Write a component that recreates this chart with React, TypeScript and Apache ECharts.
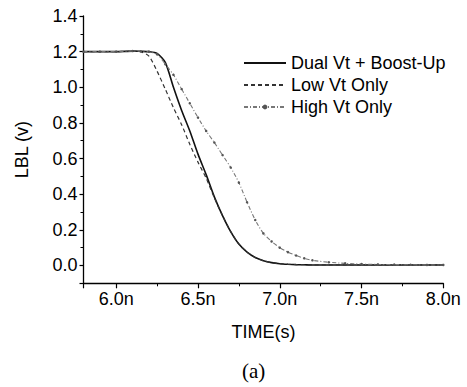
import React, { useEffect, useRef } from "react";
import * as echarts from "echarts";

const timeNs = [5.8, 5.9, 6.0, 6.1, 6.15, 6.2, 6.25, 6.3, 6.35, 6.4, 6.45, 6.5, 6.55, 6.6, 6.65, 6.7, 6.75, 6.8, 6.85, 6.9, 6.95, 7.0, 7.05, 7.1, 7.15, 7.2, 7.3, 7.4, 7.5, 7.6, 7.7, 7.8, 7.9, 8.0];
const dualVt = [1.2, 1.2, 1.2, 1.203, 1.202, 1.2, 1.19, 1.14, 1.0, 0.87, 0.755, 0.625, 0.51, 0.385, 0.28, 0.19, 0.12, 0.075, 0.045, 0.027, 0.016, 0.01, 0.007, 0.005, 0.004, 0.003, 0.003, 0.003, 0.003, 0.003, 0.003, 0.003, 0.003, 0.003];
const lowVt = [1.2, 1.2, 1.2, 1.203, 1.199, 1.175, 1.09, 0.99, 0.885, 0.79, 0.68, 0.58, 0.49, 0.38, 0.28, 0.19, 0.12, 0.075, 0.045, 0.027, 0.016, 0.01, 0.007, 0.005, 0.004, 0.003, 0.003, 0.003, 0.003, 0.003, 0.003, 0.003, 0.003, 0.003];
const highVt = [1.2, 1.2, 1.2, 1.203, 1.202, 1.2, 1.185, 1.13, 1.07, 0.99, 0.91, 0.83, 0.755, 0.69, 0.62, 0.55, 0.465, 0.355, 0.255, 0.18, 0.135, 0.1, 0.075, 0.056, 0.04, 0.029, 0.018, 0.012, 0.008, 0.006, 0.005, 0.004, 0.003, 0.003];
const seriesNames = ["Dual Vt + Boost-Up", "Low Vt Only", "High Vt Only"];

const FONT = "'Liberation Sans', Arial, Helvetica, sans-serif";

export default function App() {
  const ref = useRef<HTMLDivElement>(null);
  useEffect(() => {
    if (!ref.current) return;
    const chart = echarts.init(ref.current, null, { renderer: "svg" });
    const pair = (vals: number[]) => timeNs.map((t, i) => [t, vals[i]]);
    chart.setOption({
      animation: false,
      backgroundColor: "#ffffff",
      grid: { left: 83.5, right: 23.7, top: 16, bottom: 103.7 },
      legend: {
        orient: "vertical",
        left: 238,
        top: 49,
        itemWidth: 42,
        itemHeight: 6,
        itemGap: 4,
        textStyle: { fontFamily: FONT, fontSize: 18, color: "#000" },
        data: [
          { name: seriesNames[0], itemStyle: { opacity: 0 } },
          { name: seriesNames[1], itemStyle: { opacity: 0 } },
          { name: seriesNames[2] },
        ],
      },
      xAxis: {
        type: "value",
        min: 5.8,
        max: 8.0,
        splitNumber: 4,
        name: "TIME(s)",
        nameLocation: "middle",
        nameGap: 40,
        nameTextStyle: { fontFamily: FONT, fontSize: 18, color: "#000" },
        axisLine: { show: true, onZero: false, lineStyle: { color: "#000", width: 1.3 } },
        axisTick: { show: true, inside: false, length: 5, lineStyle: { color: "#000", width: 1.2 } },
        minorTick: { show: true, splitNumber: 2, length: 3, lineStyle: { color: "#000", width: 1 } },
        splitLine: { show: false },
        axisLabel: {
          showMinLabel: false,
          showMaxLabel: true,
          margin: 7,
          fontFamily: FONT,
          fontSize: 18,
          color: "#000",
          formatter: (v: number) => v.toFixed(1) + "n",
        },
      },
      yAxis: {
        type: "value",
        min: -0.1,
        max: 1.4,
        splitNumber: 7,
        name: "LBL (v)",
        nameLocation: "middle",
        nameGap: 53,
        nameTextStyle: { fontFamily: FONT, fontSize: 18, color: "#000" },
        axisLine: { show: true, onZero: false, lineStyle: { color: "#000", width: 1.3 } },
        axisTick: { show: true, inside: false, length: 4, lineStyle: { color: "#000", width: 1.2 } },
        minorTick: { show: true, splitNumber: 2, length: 3, lineStyle: { color: "#000", width: 1 } },
        splitLine: { show: false },
        axisLabel: {
          showMinLabel: false,
          margin: 6,
          fontFamily: FONT,
          fontSize: 18,
          color: "#000",
          formatter: (v: number) => v.toFixed(1),
        },
      },
      series: [
        {
          name: seriesNames[0],
          type: "line",
          data: pair(dualVt),
          smooth: 0.25,
          symbol: "none",
          lineStyle: { color: "#111", width: 1.6, type: "solid" },
          itemStyle: { color: "#111" },
        },
        {
          name: seriesNames[1],
          type: "line",
          data: pair(lowVt),
          smooth: 0.25,
          symbol: "none",
          lineStyle: { color: "#333", width: 1.2, type: [4, 3] },
          itemStyle: { color: "#333" },
        },
        {
          name: seriesNames[2],
          type: "line",
          data: pair(highVt),
          smooth: 0.25,
          symbol: "circle",
          symbolSize: 2.5,
          lineStyle: { color: "#777", width: 1.1, type: [4, 2, 1, 2] },
          itemStyle: { color: "#555" },
        },
      ],
      graphic: [
        {
          type: "text",
          left: 242,
          top: 360,
          style: {
            text: "(a)",
            fontFamily: "'Liberation Serif', 'Times New Roman', serif",
            fontSize: 21,
            fill: "#000",
          },
        },
      ],
    });
    return () => chart.dispose();
  }, []);
  return (
    <div
      ref={ref}
      style={{ position: "fixed", left: 0, top: 0, width: 467, height: 387, background: "#fff" }}
    />
  );
}
